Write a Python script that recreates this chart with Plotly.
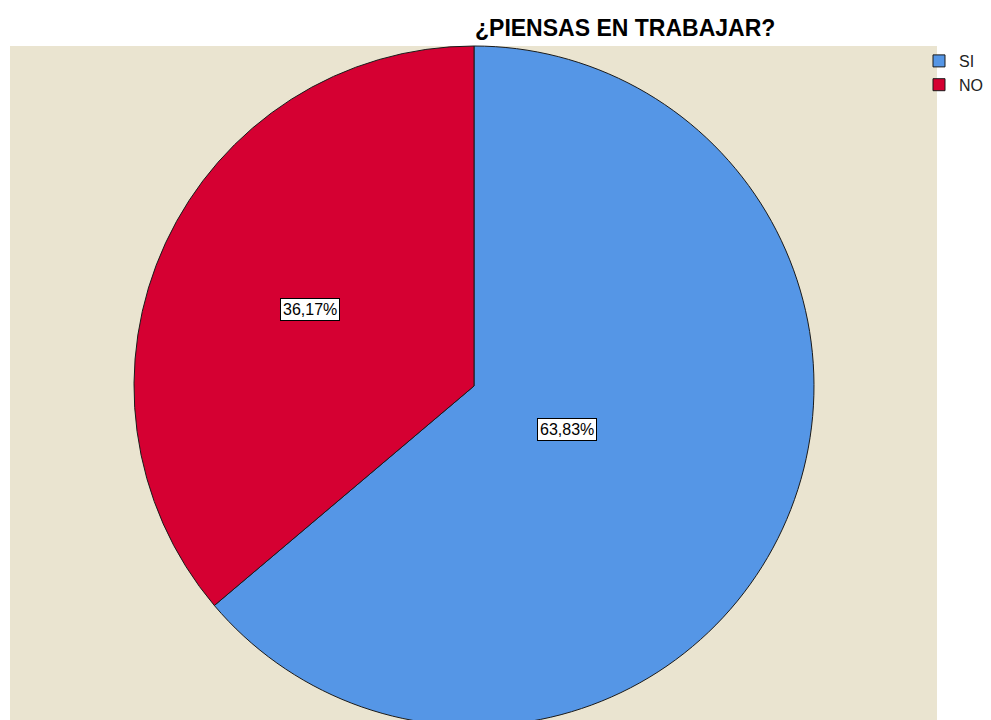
import math

import plotly.graph_objects as go

# counts behind the SPSS percentages (30/47 = 63,83 %, 17/47 = 36,17 %)
labels = ["SI", "NO"]
counts = [30, 17]
colors = ["#5596E6", "#D50032"]
title_text = "¿PIENSAS EN TRABAJAR?"

W, H = 991, 720
OFF = 8  # browser default body margin shifts the figure by 8px
FONT = "Liberation Sans, Arial, sans-serif"

# pie placement in page pixels (plot frame + circle)
frame_x0, frame_x1, frame_top = 10, 937, 46
pie_cx, pie_r = 474, 340
pie_top = frame_top
pie_cy = pie_top + pie_r


def fx(px):
    return (px - OFF) / W


def fy(py):
    return 1 - (py - OFF) / H


fig = go.Figure(
    go.Pie(
        labels=labels,
        values=counts,
        sort=False,
        direction="clockwise",
        rotation=0,
        marker=dict(colors=colors, line=dict(color="#1a1a1a", width=1)),
        textinfo="none",
        hoverinfo="label+percent",
        domain=dict(
            x=[fx(pie_cx - pie_r), fx(pie_cx + pie_r)],
            y=[fy(pie_top + 2 * pie_r), fy(pie_top)],
        ),
    )
)

# percentage boxes at the centroid of each sector
total = sum(counts)
start = 0.0
for lab, c in zip(labels, counts):
    frac = c / total
    alpha = frac * 2 * math.pi
    mid = start + alpha / 2
    d = 4 * pie_r * math.sin(alpha / 2) / (3 * alpha)
    px = pie_cx + d * math.sin(mid)
    py = pie_cy - d * math.cos(mid)
    txt = f"{frac * 100:.2f}".replace(".", ",") + "%"
    fig.add_annotation(
        x=fx(px), y=fy(py), xref="paper", yref="paper",
        xanchor="center", yanchor="middle",
        text=txt, showarrow=False,
        font=dict(family=FONT, size=16, color="black"),
        bgcolor="white", bordercolor="black", borderwidth=1, borderpad=2,
    )
    start += alpha

fig.add_annotation(
    x=fx(625), y=fy(28), xref="paper", yref="paper",
    xanchor="center", yanchor="middle",
    text=f"<b>{title_text}</b>", showarrow=False,
    font=dict(family=FONT, size=23, color="black"),
)

fig.update_layout(
    width=W,
    height=H,
    margin=dict(l=0, r=0, t=0, b=0),
    paper_bgcolor="white",
    plot_bgcolor="white",
    shapes=[
        dict(
            type="rect", xref="paper", yref="paper", layer="below",
            x0=fx(frame_x0), x1=fx(frame_x1), y0=0, y1=fy(frame_top),
            fillcolor="#EAE4D0", line=dict(width=0),
        )
    ],
    legend=dict(
        x=fx(919), y=fy(44), xanchor="left", yanchor="top",
        bgcolor="rgba(0,0,0,0)", font=dict(family=FONT, size=16, color="#222"),
        itemwidth=30, tracegroupgap=0,
    ),
    showlegend=True,
)

fig.write_html("out.html")
